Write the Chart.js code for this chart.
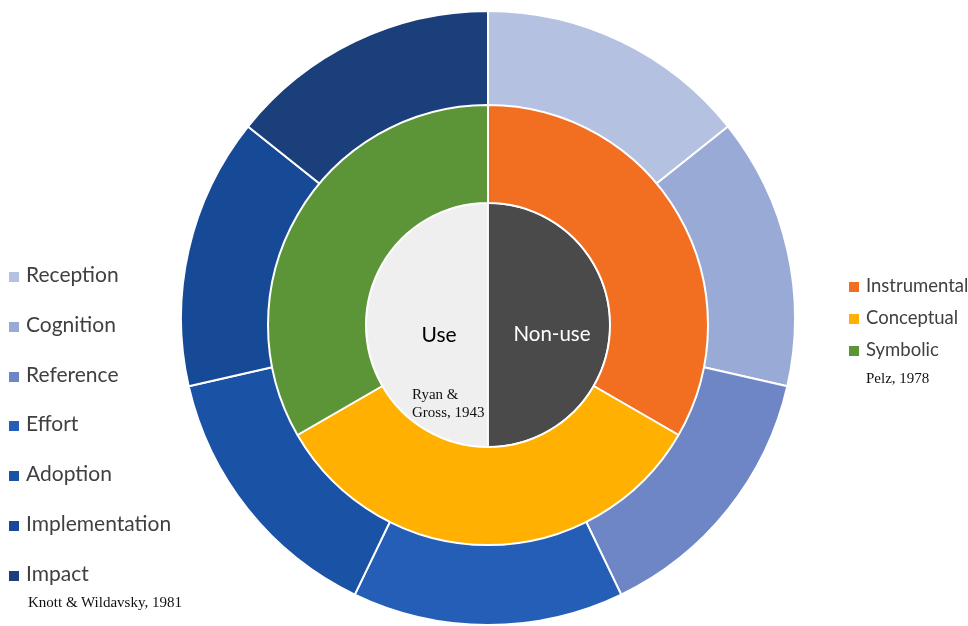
<!DOCTYPE html>
<html>
<head>
<meta charset="utf-8">
<script src="https://cdn.jsdelivr.net/npm/chart.js@4.4.1/dist/chart.umd.min.js"></script>
<style>
  html, body { margin: 0; padding: 0; background: #ffffff; }
  #wrap { position: relative; width: 968px; height: 626px; overflow: hidden; }
  canvas { position: absolute; left: 0; top: 0; }
  .leg { position: absolute; font-family: Lato, "Open Sans", sans-serif; color: #404040; white-space: nowrap; }
  .leg .item { position: absolute; left: 0; height: 24px; line-height: 24px; }
  .leg .sw { display: inline-block; width: 10px; height: 10px; margin-right: 7px; vertical-align: 0px; }
  .cite { position: absolute; font-family: "Liberation Serif", "DejaVu Serif", serif; color: #111; white-space: nowrap; }
  .lbl { position: absolute; font-family: Lato, "Open Sans", sans-serif; white-space: nowrap; transform: translate(-50%, -50%); }
</style>
</head>
<body>
<div id="wrap">
  <canvas id="outer" width="968" height="626"></canvas>
  <canvas id="inner" width="968" height="626"></canvas>
  <div id="legLeft" class="leg" style="left:9px; top:262px; font-size:21px;"></div>
  <div id="legRight" class="leg" style="left:849px; top:273px; font-size:18.5px;"></div>
  <div class="cite" style="left:28px; top:594px; font-size:15px;">Knott &amp; Wildavsky, 1981</div>
  <div class="cite" style="left:866px; top:370px; font-size:15px;">Pelz, 1978</div>
  <div class="lbl" style="left:439px; top:333px; font-size:21px; color:#000;">Use</div>
  <div class="lbl" style="left:552px; top:333px; font-size:20.5px; color:#fff;">Non-use</div>
  <div class="cite" style="left:412px; top:385px; font-size:15px; line-height:18px;">Ryan &amp;<br>Gross, 1943</div>
</div>
<script>
// Outer ring: Knott & Wildavsky stages
const stageLabels = ["Reception", "Cognition", "Reference", "Effort", "Adoption", "Implementation", "Impact"];
const stageValues = [1, 1, 1, 1, 1, 1, 1];
const stageColors = ["#b5c1e1", "#9aaad6", "#6f86c6", "#245eb6", "#1a52a6", "#164a96", "#1b3f7b"];

// Middle ring: Pelz types of use
const typeLabels = ["Instrumental", "Conceptual", "Symbolic"];
const typeValues = [1, 1, 1];
const typeColors = ["#f26e21", "#ffb000", "#5c9538"];

// Inner pie: Ryan & Gross
const useLabels = ["Non-use", "Use"];
const useValues = [1, 1];
const useColors = ["#4a4a4a", "#efefef"];

const common = {
  responsive: false,
  animation: false,
  devicePixelRatio: 1,
  plugins: { legend: { display: false }, tooltip: { enabled: false } },
  events: []
};

new Chart(document.getElementById('outer'), {
  type: 'doughnut',
  data: {
    labels: stageLabels,
    datasets: [{ data: stageValues, backgroundColor: stageColors, borderColor: '#ffffff', borderWidth: 2 }]
  },
  options: Object.assign({}, common, {
    layout: { padding: { left: 8, right: 0, top: 10, bottom: 0 } },
    radius: 307,
    cutout: 0
  })
});

new Chart(document.getElementById('inner'), {
  type: 'doughnut',
  data: {
    labels: typeLabels,
    datasets: [
      { data: typeValues, backgroundColor: typeColors, borderColor: '#ffffff', borderWidth: 2, weight: 98 },
      { data: useValues, backgroundColor: useColors, borderColor: '#ffffff', borderWidth: 1.5, weight: 122 }
    ]
  },
  options: Object.assign({}, common, {
    layout: { padding: { left: 8, right: 0, top: 24, bottom: 0 } },
    radius: 220,
    cutout: 0
  })
});

function buildLegend(el, labels, colors, step) {
  labels.forEach((t, i) => {
    const d = document.createElement('div');
    d.className = 'item';
    d.style.top = (i * step) + 'px';
    const s = document.createElement('span');
    s.className = 'sw';
    s.style.background = colors[i];
    d.appendChild(s);
    d.appendChild(document.createTextNode(t));
    el.appendChild(d);
  });
}
buildLegend(document.getElementById('legLeft'), stageLabels, stageColors, 49.8);
buildLegend(document.getElementById('legRight'), typeLabels, typeColors, 32);
</script>
</body>
</html>
